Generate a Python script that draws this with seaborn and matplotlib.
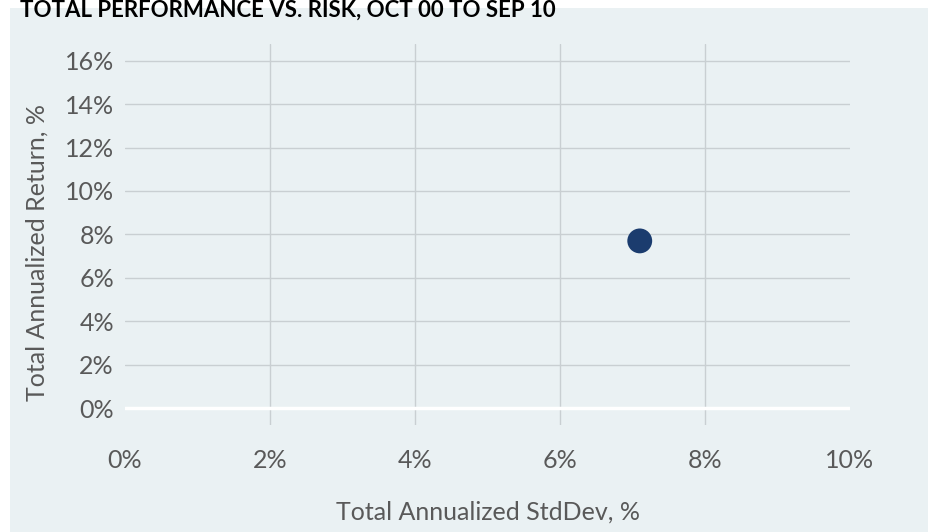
import matplotlib
matplotlib.use('Agg')
import matplotlib.pyplot as plt
import seaborn as sns
import pandas as pd
from matplotlib.patches import Rectangle
from matplotlib.ticker import FuncFormatter

# Data
portfolio = ['Portfolio']
std_dev = [7.1]       # Total Annualized StdDev, %
ann_return = [7.7]    # Total Annualized Return, %

x_ticks = [0, 2, 4, 6, 8, 10]
y_ticks = [0, 2, 4, 6, 8, 10, 12, 14, 16]

df = pd.DataFrame({'name': portfolio, 'std': std_dev, 'ret': ann_return})

sns.set_style('white')
plt.rcParams['font.family'] = ['Lato', 'DejaVu Sans']

panel_color = '#EAF1F3'
grid_color = '#C9CFD2'
text_color = '#595959'

fig = plt.figure(figsize=(9.4, 5.32), dpi=100)
fig.patch.set_facecolor('white')

# light panel behind the chart
fig.patches.append(Rectangle((10 / 940, 0), 918 / 940, 524 / 532,
                             transform=fig.transFigure, facecolor=panel_color,
                             edgecolor='none', zorder=-5))

fig.text(20 / 940, 1.0, 'TOTAL PERFORMANCE VS. RISK, OCT 00 TO SEP 10',
         fontsize=16, fontweight='bold', color='black', va='top', ha='left',
         zorder=5)

ax = fig.add_axes([125 / 940, 107 / 532, 725 / 940, 381 / 532])
ax.set_facecolor(panel_color)

# gridlines
for v in x_ticks[1:-1]:
    ax.axvline(v, color=grid_color, lw=1, zorder=1)
for v in y_ticks[1:]:
    ax.axhline(v, color=grid_color, lw=1, zorder=1)
ax.axhline(0, color='white', lw=2.5, zorder=2)

sns.scatterplot(data=df, x='std', y='ret', s=320, color='#1B3C6E',
                edgecolor='none', ax=ax, zorder=3, legend=False)

ax.set_xlim(0, 10)
ax.set_ylim(-0.78, 16.77)
ax.set_xticks(x_ticks)
ax.set_yticks(y_ticks)
pct = FuncFormatter(lambda v, p: f'{v:.0f}%')
ax.xaxis.set_major_formatter(pct)
ax.yaxis.set_major_formatter(pct)
ax.tick_params(axis='both', length=0, labelsize=18, colors=text_color)
ax.tick_params(axis='x', pad=17)
ax.tick_params(axis='y', pad=8)
for s in ax.spines.values():
    s.set_visible(False)

ax.set_xlabel('Total Annualized StdDev, %', fontsize=18, color=text_color)
ax.set_ylabel('Total Annualized Return, %', fontsize=18, color=text_color)
ax.xaxis.set_label_coords(0.5, -0.198)
ax.yaxis.set_label_coords(-0.106, 0.454)

plt.savefig('out.png', dpi=100)
plt.close()
